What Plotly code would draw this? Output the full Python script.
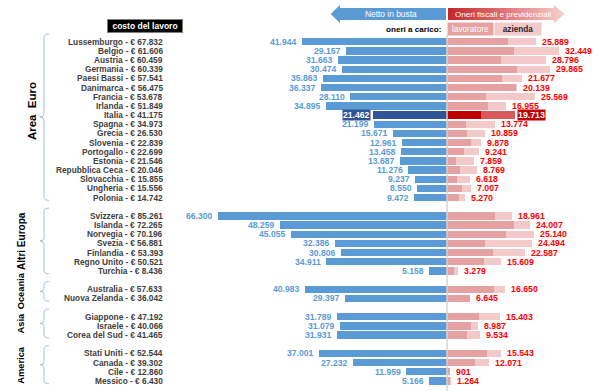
import plotly.graph_objects as go

# ---------------- data ----------------
group_names = ["Area  Euro", "Altri Europa", "Oceania", "Asia", "America"]
group_sizes = [18, 7, 2, 3, 4]

paesi = ["Lussemburgo", "Belgio", "Austria", "Germania", "Paesi Bassi", "Danimarca",
         "Francia", "Irlanda", "Italia", "Spagna", "Grecia", "Slovenia", "Portogallo",
         "Estonia", "Repubblica Ceca", "Slovacchia", "Ungheria", "Polonia",
         "Svizzera", "Islanda", "Norvegia", "Svezia", "Finlandia", "Regno Unito", "Turchia",
         "Australia", "Nuova Zelanda",
         "Giappone", "Israele", "Corea del Sud",
         "Stati Uniti", "Canada", "Cile", "Messico"]
costo = [67832, 61606, 60459, 60339, 57541, 56475, 53678, 51849, 41175, 34973, 26530,
         22839, 22699, 21546, 20046, 15855, 15556, 14742,
         85261, 72265, 70196, 56881, 53393, 50521, 8436,
         57633, 36042,
         47192, 40066, 41465,
         52544, 39302, 12860, 6430]
netto = [41944, 29157, 31663, 30474, 35863, 36337, 28110, 34895, 21462, 21199, 15671,
         12961, 13458, 13687, 11276, 9237, 8550, 9472,
         66300, 48259, 45055, 32386, 30806, 34911, 5158,
         40983, 29397,
         31789, 31079, 31931,
         37001, 27232, 11959, 5166]
oneri = [25889, 32449, 28796, 29865, 21677, 20139, 25569, 16955, 19713, 13774, 10859,
         9878, 9241, 7859, 8769, 6618, 7007, 5270,
         18961, 24007, 25140, 24494, 22587, 15609, 3279,
         16650, 6645,
         15403, 8987, 9534,
         15543, 12071, 901, 1264]
lavoratore = [17660, 19300, 15540, 20170, 15830, 19900, 11290, 11870, 9840, 5600, 5690,
              6850, 5020, 2510, 3670, 2900, 4440, 3380,
              13990, 19490, 17080, 10900, 13220, 10710, 2120,
              13510, 6645,
              9170, 6850, 5690,
              11580, 8200, 901, 770]
evidenziato = "Italia"

azienda = [o - l for o, l in zip(oneri, lavoratore)]

# ---------------- geometry ----------------
W, H = 600, 391
X0_PX = 447.0          # pixel of the zero line
PX_PER_UNIT = 0.003454
ROW0_PX = 41.7
ROW_PX = 9.17


def px_x(p):
    return (p - X0_PX) / PX_PER_UNIT


def px_y(p):
    return (p - ROW0_PX) / ROW_PX


def fmt(v):
    return f"{v:,}".replace(",", ".")


rows = []
group_rows = []
r = 0
for size in group_sizes:
    first = r
    for _ in range(size):
        rows.append(r)
        r += 1
    group_rows.append((first, r - 1))
    r += 1

FONT = "Liberation Sans, Arial, sans-serif"
C_NET = "#5B9BD5"
C_NET_HL = "#2F5597"
C_LAV = "#E6A1A3"
C_LAV_HL = "#C00000"
C_AZ = "#F3C9CA"
C_AZ_HL = "#D9585C"
C_RED_TXT = "#FF0000"
C_BRACE = "#9DC3E6"

hl = [p == evidenziato for p in paesi]

fig = go.Figure()

# header arrows (behind everything else)
blue_arrow = [(330.7, 14), (340, 5), (340, 8), (446, 8), (446, 20), (340, 20), (340, 23), (330.7, 14)]
fig.add_trace(go.Scatter(
    x=[px_x(a) for a, b in blue_arrow], y=[px_y(b) for a, b in blue_arrow],
    mode="lines", fill="toself", fillcolor=C_NET, line=dict(width=0),
    hoverinfo="skip", showlegend=False))
red_arrow = [(448, 8), (554, 8), (554, 5), (564.5, 14), (554, 23), (554, 20), (448, 20), (448, 8)]
fig.add_trace(go.Scatter(
    x=[px_x(a) for a, b in red_arrow], y=[px_y(b) for a, b in red_arrow],
    mode="lines", fill="toself", line=dict(width=0),
    fillgradient=dict(type="horizontal",
                      colorscale=[[0, "#C3262B"], [0.45, "#DE6E70"], [1, "#F7D0D0"]]),
    hoverinfo="skip", showlegend=False))

# bars
fig.add_trace(go.Bar(
    y=rows, x=[-n for n in netto], base=0, orientation="h", width=0.8,
    marker=dict(color=[C_NET_HL if h else C_NET for h in hl], line=dict(width=0)),
    hoverinfo="skip", showlegend=False))
fig.add_trace(go.Bar(
    y=rows, x=lavoratore, base=0, orientation="h", width=0.8,
    marker=dict(color=[C_LAV_HL if h else C_LAV for h in hl], line=dict(width=0)),
    hoverinfo="skip", showlegend=False))
fig.add_trace(go.Bar(
    y=rows, x=azienda, base=lavoratore, orientation="h", width=0.8,
    marker=dict(color=[C_AZ_HL if h else C_AZ for h in hl], line=dict(width=0)),
    hoverinfo="skip", showlegend=False))

ann = []
shapes = []

# zero line
shapes.append(dict(type="line", xref="x", yref="y", x0=0, x1=0,
                   y0=px_y(35), y1=px_y(H), line=dict(color="#D4D4D4", width=1.5), layer="above"))

for i, p in enumerate(paesi):
    y = rows[i]
    ann.append(dict(x=px_x(165), y=y, xref="x", yref="y", text=f"{p} - € {fmt(costo[i])}",
                    showarrow=False, xanchor="right", yanchor="middle",
                    font=dict(family=FONT, size=8.3, color="#404040", weight="bold")))
    if hl[i]:
        ann.append(dict(x=-netto[i], y=y, xref="x", yref="y", text=fmt(netto[i]),
                        showarrow=False, xanchor="right", yanchor="middle", xshift=-2,
                        bgcolor=C_NET_HL, borderpad=0,
                        font=dict(family=FONT, size=8.6, color="white", weight="bold")))
        ann.append(dict(x=oneri[i], y=y, xref="x", yref="y", text=fmt(oneri[i]),
                        showarrow=False, xanchor="left", yanchor="middle", xshift=2,
                        bgcolor=C_LAV_HL, borderpad=0,
                        font=dict(family=FONT, size=8.8, color="white", weight="bold")))
    else:
        ann.append(dict(x=-netto[i], y=y, xref="x", yref="y", text=fmt(netto[i]),
                        showarrow=False, xanchor="right", yanchor="middle", xshift=-3,
                        font=dict(family=FONT, size=8.6, color=C_NET, weight="bold")))
        ann.append(dict(x=oneri[i], y=y, xref="x", yref="y", text=fmt(oneri[i]),
                        showarrow=False, xanchor="left", yanchor="middle", xshift=4,
                        font=dict(family=FONT, size=8.8, color=C_RED_TXT, weight="bold")))

# group braces and labels
label_x = [32, 22, 21, 21, 21]
label_size = [11.5, 10, 9.3, 9.3, 9.3]
label_yshift = [6, 0, 0, 0, 0]
for g, (first, last) in enumerate(group_rows):
    top = first - 0.85
    bot = last + 0.3
    mid = (top + bot) / 2
    vx, hx, tx = px_x(44), px_x(49), px_x(40)
    d = 0.35
    path = (f"M {hx},{top} Q {vx},{top} {vx},{top + d} L {vx},{mid - d} "
            f"Q {vx},{mid} {tx},{mid} Q {vx},{mid} {vx},{mid + d} "
            f"L {vx},{bot - d} Q {vx},{bot} {hx},{bot}")
    shapes.append(dict(type="path", xref="x", yref="y", path=path,
                       line=dict(color=C_BRACE, width=1)))
    ann.append(dict(x=px_x(label_x[g]), y=mid, xref="x", yref="y", text=group_names[g],
                    showarrow=False, textangle=-90, xanchor="center", yanchor="middle",
                    yshift=label_yshift[g],
                    font=dict(family=FONT, size=label_size[g], color="black", weight="bold")))

# header texts
ann.append(dict(x=px_x(391), y=px_y(14), xref="x", yref="y", text="Netto in busta",
                showarrow=False, font=dict(family=FONT, size=8.4, color="white")))
ann.append(dict(x=px_x(503), y=px_y(14), xref="x", yref="y", text="Oneri fiscali e previdenziali",
                showarrow=False, font=dict(family=FONT, size=8.1, color="white")))
ann.append(dict(x=px_x(443), y=px_y(29), xref="x", yref="y", text="oneri a carico:",
                showarrow=False, xanchor="right",
                font=dict(family=FONT, size=8.1, color="black", weight="bold")))
ann.append(dict(x=px_x(470.5), y=px_y(28.5), xref="x", yref="y", text="lavoratore",
                showarrow=False, width=45, height=12, borderpad=0, bgcolor=C_LAV,
                font=dict(family=FONT, size=8.2, color="white")))
ann.append(dict(x=px_x(518), y=px_y(28.5), xref="x", yref="y", text="azienda",
                showarrow=False, width=46, height=12, borderpad=0, bgcolor=C_AZ,
                font=dict(family=FONT, size=8.2, color="#262626", weight="bold")))
ann.append(dict(x=px_x(145), y=px_y(26), xref="x", yref="y", text="costo del lavoro",
                showarrow=False, width=74, height=12, borderpad=0, bgcolor="black",
                bordercolor="#7F7F7F", borderwidth=1,
                font=dict(family=FONT, size=8.5, color="white", weight="bold")))

fig.update_layout(
    width=W, height=H,
    margin=dict(l=0, r=0, t=0, b=0, pad=0),
    paper_bgcolor="white", plot_bgcolor="white",
    barmode="overlay", bargap=0,
    showlegend=False, hovermode=False,
    xaxis=dict(range=[px_x(0), px_x(W)], visible=False, fixedrange=True),
    yaxis=dict(range=[px_y(H), px_y(0)], visible=False, fixedrange=True),
    annotations=ann, shapes=shapes,
)

fig.write_html("out.html",
               config={"displayModeBar": False, "staticPlot": True},
               post_script="document.body.style.margin='0';document.body.style.overflow='hidden';")
